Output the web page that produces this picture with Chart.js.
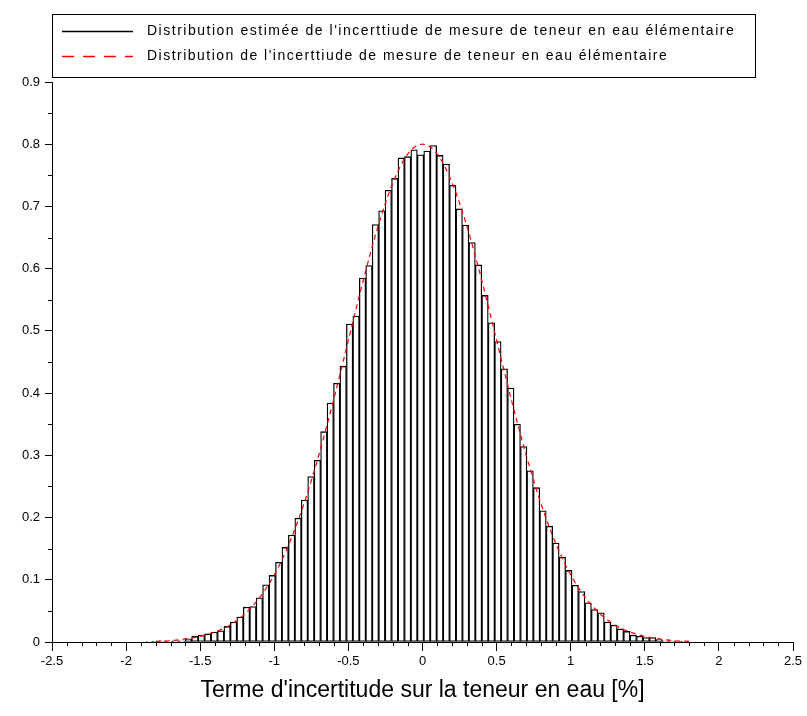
<!DOCTYPE html>
<html>
<head>
<meta charset="utf-8">
<script src="https://cdn.jsdelivr.net/npm/chart.js@4/dist/chart.umd.min.js"></script>
<style>
html,body{margin:0;padding:0;background:#fff;}
#wrap{width:807px;height:716px;}
</style>
</head>
<body>
<div id="wrap"><canvas id="c" width="807" height="716"></canvas></div>
<script>
// ---- data ----
const binCenters = [
 -1.84025,-1.79675,-1.75325,-1.70975,-1.66625,-1.62275,-1.57925,-1.53575,-1.49225,-1.44875,
 -1.40525,-1.36175,-1.31825,-1.27475,-1.23125,-1.18775,-1.14425,-1.10075,-1.05725,-1.01375,
 -0.97025,-0.92675,-0.88325,-0.83975,-0.79625,-0.75275,-0.70925,-0.66575,-0.62225,-0.57875,
 -0.53525,-0.49175,-0.44825,-0.40475,-0.36125,-0.31775,-0.27425,-0.23075,-0.18725,-0.14375,
 -0.10025,-0.05675,-0.01325,0.03025,0.07375,0.11725,0.16075,0.20425,0.24775,0.29125,
 0.33475,0.37825,0.42175,0.46525,0.50875,0.55225,0.59575,0.63925,0.68275,0.72625,
 0.76975,0.81325,0.85675,0.90025,0.94375,0.98725,1.03075,1.07425,1.11775,1.16125,
 1.20475,1.24825,1.29175,1.33525,1.37875,1.42225,1.46575,1.50925,1.55275,1.59625,
 1.63975,1.68325,1.72675,1.77025
];
const binHeights = [
 0.001,0.001,0.002,0.001,0.002,0.002,0.005,0.009,0.011,0.013,
 0.016,0.018,0.025,0.032,0.040,0.056,0.057,0.071,0.092,0.107,
 0.128,0.152,0.172,0.199,0.228,0.266,0.292,0.338,0.384,0.416,
 0.443,0.511,0.524,0.585,0.605,0.671,0.693,0.726,0.745,0.778,
 0.780,0.791,0.783,0.789,0.798,0.782,0.768,0.734,0.696,0.670,
 0.642,0.606,0.557,0.513,0.483,0.439,0.408,0.350,0.314,0.275,
 0.248,0.211,0.186,0.159,0.136,0.115,0.091,0.081,0.063,0.052,
 0.047,0.032,0.027,0.021,0.017,0.011,0.009,0.007,0.007,0.004,
 0.002,0.002,0.001,0.001
];
const curveX = [-1.8,-1.7,-1.6,-1.5,-1.4,-1.3,-1.2,-1.1,-1.0,-0.9,-0.8,-0.7,-0.6,-0.5,-0.4,-0.3,-0.2,-0.1,
 0,0.1,0.2,0.3,0.4,0.5,0.6,0.7,0.8,0.9,1.0,1.1,1.2,1.3,1.4,1.5,1.6,1.7,1.8];
const curveY = [0.001,0.002,0.005,0.009,0.016,0.027,0.045,0.071,0.108,0.158,0.222,0.300,0.389,0.485,0.581,0.668,0.738,0.784,
 0.800,0.784,0.738,0.668,0.581,0.485,0.389,0.300,0.222,0.158,0.108,0.071,0.045,0.027,0.016,0.009,0.005,0.002,0.001];
const legendLabels = [
 "Distribution estimée de l'incerttiude de mesure de teneur en eau élémentaire",
 "Distribution de l'incerttiude de mesure de teneur en eau élémentaire"
];
const xAxisTitle = "Terme d'incertitude sur la teneur en eau [%]";
const xRange = [-2.5, 2.5];
const yRange = [0, 0.9];

const fmt = v => String(Number(Number(v).toFixed(2)));

// ---- plugins ----
const minorTicks = {
  id: 'minorTicks',
  afterDraw(chart) {
    const {ctx} = chart;
    const x = chart.scales.x, y = chart.scales.y;
    ctx.save();
    ctx.strokeStyle = '#000';
    ctx.lineWidth = 1;
    ctx.beginPath();
    for (let i = -25; i <= 25; i++) {
      if (i % 5 === 0) continue;
      const px = Math.round(x.getPixelForValue(i / 10)) + 0.5;
      ctx.moveTo(px, y.bottom);
      ctx.lineTo(px, y.bottom + 4);
    }
    for (let i = 1; i < 18; i += 2) {
      const py = Math.round(y.getPixelForValue(i / 20)) + 0.5;
      ctx.moveTo(x.left, py);
      ctx.lineTo(x.left - 4, py);
    }
    ctx.stroke();
    ctx.restore();
  }
};

const boxLegend = {
  id: 'boxLegend',
  afterDraw(chart) {
    const ctx = chart.ctx;
    const ds = chart.data.datasets;
    ctx.save();
    ctx.fillStyle = '#fff';
    ctx.fillRect(52.5, 14.5, 703, 63);
    ctx.strokeStyle = '#000';
    ctx.lineWidth = 1;
    ctx.strokeRect(52.5, 14.5, 703, 63);
    // samples
    ctx.lineWidth = 1.5;
    ctx.strokeStyle = '#000';
    ctx.beginPath(); ctx.moveTo(62, 31.5); ctx.lineTo(133, 31.5); ctx.stroke();
    ctx.strokeStyle = '#ff0000';
    ctx.setLineDash([12, 9]);
    ctx.beginPath(); ctx.moveTo(62, 56.5); ctx.lineTo(133, 56.5); ctx.stroke();
    ctx.setLineDash([]);
    // texts
    ctx.fillStyle = '#000';
    ctx.font = '14px "Liberation Sans"';
    ctx.textBaseline = 'middle';
    ctx.textAlign = 'left';
    const targets = [588, 521];
    const ys = [31, 56];
    for (let i = 0; i < 2; i++) {
      const t = ds[i].label;
      ctx.letterSpacing = '0px';
      const w = ctx.measureText(t).width;
      const sp = (targets[i] - w) / t.length;
      if ('letterSpacing' in ctx) {
        ctx.letterSpacing = sp.toFixed(2) + 'px';
        ctx.fillText(t, 147, ys[i]);
      } else {
        ctx.save();
        ctx.translate(147, ys[i]);
        ctx.scale(targets[i] / w, 1);
        ctx.fillText(t, 0, 0);
        ctx.restore();
      }
    }
    ctx.restore();
  }
};

const ctx = document.getElementById('c').getContext('2d');
new Chart(ctx, {
  type: 'bar',
  data: {
    datasets: [
      {
        type: 'bar',
        label: legendLabels[0],
        data: binCenters.map((x, i) => ({x: x, y: binHeights[i]})),
        backgroundColor: '#ffffff',
        borderColor: '#000000',
        borderWidth: 1.3,
        borderSkipped: false,
        barPercentage: 1,
        categoryPercentage: 1,
        order: 2
      },
      {
        type: 'line',
        label: legendLabels[1],
        data: curveX.map((x, i) => ({x: x, y: curveY[i]})),
        borderColor: '#ff0000',
        borderWidth: 1.2,
        borderDash: [5, 4],
        pointRadius: 0,
        fill: false,
        cubicInterpolationMode: 'monotone',
        order: 1
      }
    ]
  },
  options: {
    responsive: false,
    animation: false,
    devicePixelRatio: 1,
    layout: {padding: {top: 82, right: 14, left: 0, bottom: 0}},
    plugins: {legend: {display: false}, tooltip: {enabled: false}},
    scales: {
      x: {
        type: 'linear',
        min: xRange[0], max: xRange[1],
        offset: false,
        grid: {offset: false, drawOnChartArea: false, drawTicks: true, tickLength: 9, color: '#000', tickColor: '#000'},
        border: {display: true, color: '#000', width: 1},
        ticks: {stepSize: 0.5, color: '#000', padding: 3, maxRotation: 0, autoSkip: false,
                font: {family: '"Liberation Sans"', size: 13}, callback: v => fmt(v)},
        title: {display: true, text: xAxisTitle, color: '#000',
                font: {family: '"Liberation Sans"', size: 23}, padding: {top: 0, bottom: 12}},
        afterFit(s) { s.height = 74; }
      },
      y: {
        type: 'linear',
        min: yRange[0], max: yRange[1],
        grid: {drawOnChartArea: false, drawTicks: true, tickLength: 7, color: '#000', tickColor: '#000'},
        border: {display: true, color: '#000', width: 1},
        ticks: {stepSize: 0.1, color: '#000', padding: 5,
                font: {family: '"Liberation Sans"', size: 13}, callback: v => fmt(v)},
        afterFit(s) { s.width = 52; }
      }
    }
  },
  plugins: [minorTicks, boxLegend]
});
</script>
</body>
</html>
